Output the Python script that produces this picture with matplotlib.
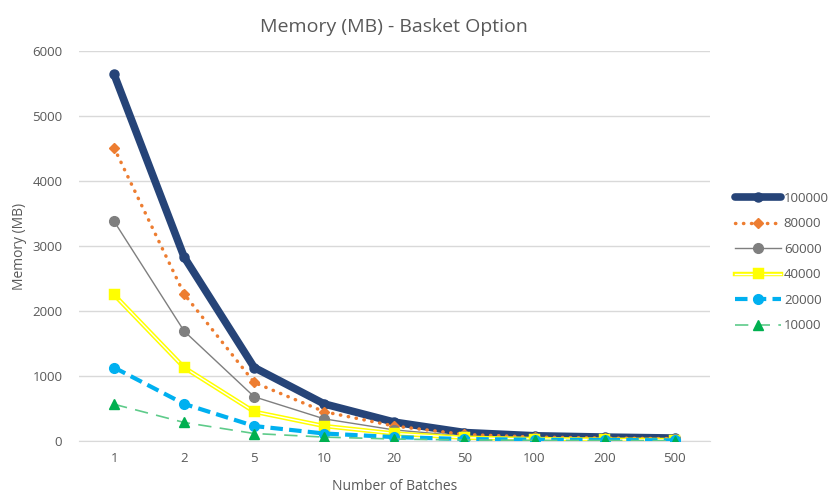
import numpy as np
from matplotlib import pyplot as plt
from matplotlib import patheffects as pe

plt.rcParams['font.family'] = ['Open Sans', 'DejaVu Sans']

batches = ['1', '2', '5', '10', '20', '50', '100', '200', '500']
mem_100000 = [5640, 2830, 1130, 570, 290, 130, 80, 60, 45]
mem_80000 = [4510, 2260, 900, 450, 230, 100, 60, 45, 35]
mem_60000 = [3380, 1690, 680, 340, 170, 75, 45, 35, 25]
mem_40000 = [2250, 1130, 450, 230, 115, 50, 30, 20, 15]
mem_20000 = [1130, 570, 230, 115, 60, 30, 20, 15, 10]
mem_10000 = [565, 285, 115, 60, 30, 15, 10, 8, 5]

grey = '#595959'
x = np.arange(len(batches))

fig = plt.figure(figsize=(8.32, 4.97), dpi=100)
ax = fig.add_axes([0.095, 0.1127, 0.758, 0.7847])

ax.plot(x, mem_100000, color='#264478', lw=5.5, marker='o', ms=6.5,
        solid_capstyle='round', solid_joinstyle='round', label='100000', zorder=2)
ax.plot(x, mem_80000, color='#ED7D31', lw=2.5, ls=(0, (0.1, 2.2)), dash_capstyle='round',
        marker='D', ms=5.5, label='80000', zorder=3)
ax.plot(x, mem_60000, color='#7F7F7F', lw=1, marker='o', ms=7, label='60000', zorder=4)
ax.plot(x, mem_40000, color='white', lw=1, marker='s', ms=5, mfc='#FFFF00', mec='#FFFF00',
        path_effects=[pe.Stroke(linewidth=3.2, foreground='#FFFF00'), pe.Normal()],
        label='40000', zorder=5)
ax.plot(x, mem_20000, color='#00B0F0', lw=3, ls=(0, (3, 1.5)), marker='o', ms=7,
        label='20000', zorder=6)
ax.plot(x, mem_10000, color='#5ECB8A', lw=1.2, ls=(0, (8, 5)), marker='^', ms=6.5,
        mfc='#00B050', mec='#00B050', label='10000', zorder=7)

ax.set_xlim(-0.5, len(batches) - 0.5)
ax.set_ylim(0, 6000)
ax.set_yticks(range(0, 6001, 1000))
ax.set_xticks(x)
ax.set_xticklabels(batches)
ax.grid(axis='y', color='#D9D9D9', lw=1)
ax.set_axisbelow(True)
for s in ['top', 'right', 'left']:
    ax.spines[s].set_visible(False)
ax.spines['bottom'].set_color('#D9D9D9')
ax.tick_params(length=0, colors=grey, labelsize=9.5, pad=8)
ax.tick_params(axis='y', pad=12)

ax.set_title('Memory (MB) - Basket Option', color=grey, fontsize=14, pad=14)
ax.set_xlabel('Number of Batches', color=grey, fontsize=10, labelpad=10)
ax.set_ylabel('Memory (MB)', color=grey, fontsize=10, labelpad=4)

fig.legend(loc='center left', bbox_to_anchor=(735 / 832, 1 - 262 / 497),
           bbox_transform=fig.transFigure, frameon=False,
           handlelength=3.5, handletextpad=0.2, labelspacing=0.95, fontsize=9.5,
           labelcolor=grey, borderaxespad=0, borderpad=0)

fig.savefig('out.png', dpi=100)
